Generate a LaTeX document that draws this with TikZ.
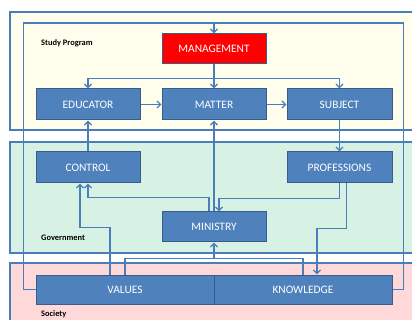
\documentclass[tikz,border=0pt]{standalone}
\usepackage{fontspec}
\setmainfont{Carlito}
\usetikzlibrary{arrows.meta}
\definecolor{boxblue}{HTML}{4F81BD}
\definecolor{boxedge}{HTML}{385D8A}
\definecolor{linkblue}{HTML}{4A7EBB}
\definecolor{studyfill}{HTML}{FFFDEB}
\definecolor{govfill}{HTML}{D8F1E5}
\definecolor{socfill}{HTML}{FFD9D9}
\begin{document}
\begin{tikzpicture}[
  x=1pt, y=-1pt,
  box/.style={rectangle, draw=boxedge, fill=boxblue, line width=1pt, minimum width=104pt, minimum height=30pt, text=white, font=\fontsize{11.4}{13}\selectfont, inner sep=0pt},
  region/.style={draw=linkblue, line width=1.1pt},
  tag/.style={anchor=west, font=\bfseries\fontsize{8.4}{10}\selectfont, inner sep=0pt},
  link/.style={draw=linkblue, line width=1.3pt, -{Straight Barb[length=3.6pt,width=7pt]}},
  plain/.style={draw=linkblue, line width=1.3pt}
]
\useasboundingbox (0,0) rectangle (412,320);
\clip (0,0) rectangle (412,320);
\fill[white] (0,0) rectangle (412,320);

% Three layers as background bands
\draw[region, fill=studyfill] (10,12) rectangle (430,130);
\draw[region, fill=govfill] (10,142) rectangle (430,253);
\draw[region, fill=socfill] (10,263) rectangle (430,340);
\node[tag] (study-tag) at (41,43) {Study Program};
\node[tag] (gov-tag) at (41,238) {Government};
\node[tag] (soc-tag) at (41,314) {Society};

% Boxes
\node[box, fill=red] (management) at (214,49) {MANAGEMENT};
\node[box, minimum height=31pt] (educator) at (88,104.5) {EDUCATOR};
\node[box, minimum height=31pt] (matter) at (214,104.5) {MATTER};
\node[box, minimum height=31pt, minimum width=105pt] (subject) at (339.5,104.5) {SUBJECT};
\node[box, minimum height=31pt] (control) at (88,167.5) {CONTROL};
\node[box, minimum height=31pt, minimum width=105pt] (professions) at (339.5,167.5) {PROFESSIONS};
\node[box] (ministry) at (214,227) {MINISTRY};
\node[box, minimum width=178pt, minimum height=29pt] (values) at (125,289.5) {VALUES};
\node[box, minimum width=178pt, minimum height=29pt] (knowledge) at (303,289.5) {KNOWLEDGE};

% Management feeds the study program
\draw[link] (management.south) -- (matter.north);
\draw[link] (management.south) -- ++(0,14) coordinate (fork) -| (educator.north);
\draw[link] (fork) -| (subject.north);
\draw[link] (educator.east) -- (matter.west);
\draw[link] (matter.east) -- (subject.west);

% Government
\draw[link] (control.north) -- (educator.south);
\draw[link] (subject.south) -- (professions.north);
\draw[link] (ministry.north) -- (matter.south);
\draw[link] ([xshift=-5pt]ministry.north) -- ++(0,-14) -| (control.south);
\draw[link] (professions.south) -- ++(0,15) -| ([xshift=5pt]ministry.north);
\draw[link] ([xshift=7pt]professions.south) -- ++(0,45) -| ([xshift=14pt]knowledge.north);

% Society
\draw[link] ([xshift=-15pt]values.north) -- ++(0,-47) -| ([xshift=-8pt]control.south);
\draw[plain] (values.north) -- ++(0,-16) coordinate (base) -| (knowledge.north);
\draw[link] (base -| ministry.south) -- (ministry.south);

% Outer loop back to management
\coordinate (loop-top) at (214,23);
\draw[plain] (values.west) -- ++(-12,0) |- (loop-top);
\draw[plain] (knowledge.east) -- ++(11,0) |- (loop-top);
\draw[link] (loop-top) -- (management.north);

\end{tikzpicture}
\end{document}
